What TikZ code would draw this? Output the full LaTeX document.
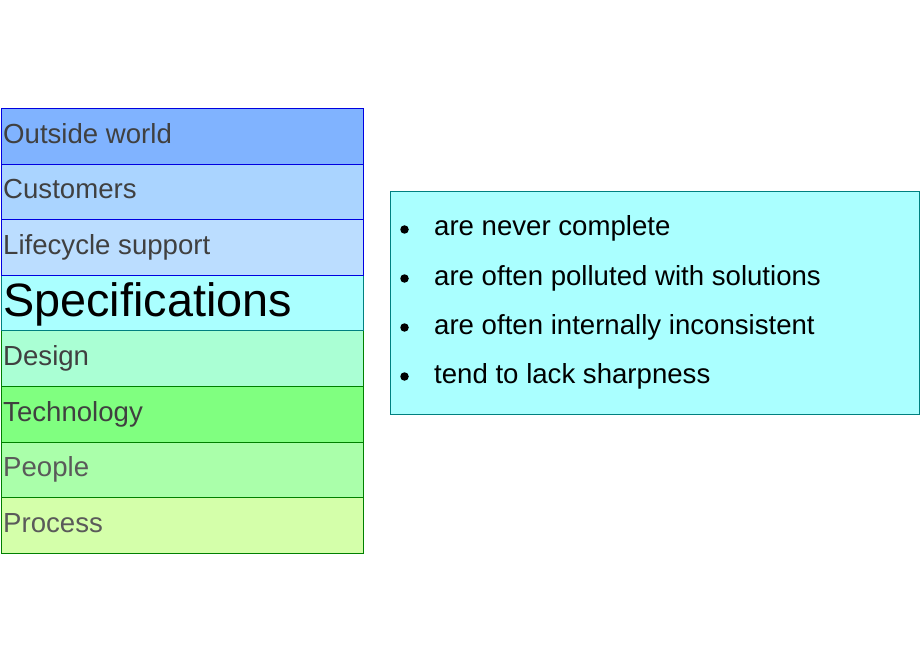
\documentclass[tikz,border=0pt]{standalone}
\usepackage{fontspec}
\setmainfont{Liberation Sans}
\definecolor{cOut}{HTML}{80B3FF}
\definecolor{cCust}{HTML}{AAD4FF}
\definecolor{cLife}{HTML}{BBDDFF}
\definecolor{cSpec}{HTML}{AAFFFF}
\definecolor{cDes}{HTML}{AAFFD4}
\definecolor{cTech}{HTML}{80FF80}
\definecolor{cPeop}{HTML}{AAFFAA}
\definecolor{cProc}{HTML}{D4FFAA}
\definecolor{bBlue}{HTML}{0000E0}
\definecolor{bTeal}{HTML}{008080}
\definecolor{bGreen}{HTML}{008000}
\definecolor{tDark}{HTML}{404040}
\definecolor{tGray}{HTML}{5A5A5A}
\tikzset{
  rowbox/.style={draw, line width=1pt, rectangle, minimum width=362pt, minimum height=55.6pt,
    anchor=north west, inner sep=0pt},
  rowtxt/.style={anchor=base west, inner sep=0pt, font=\fontsize{27.6}{30}\selectfont},
  bultxt/.style={anchor=base west, inner sep=0pt, font=\fontsize{27.6}{30}\selectfont},
  bul/.style={circle, fill=black, inner sep=0pt, minimum size=8.5pt},
}
\begin{document}
\begin{tikzpicture}[x=1pt,y=-1pt]
\useasboundingbox (0,0) rectangle (920,660);
% rows drawn bottom to top so shared edges take the upper row's colour
\node[rowbox, fill=cProc, draw=bGreen] (proc) at (1,497.2) {};
\node[rowbox, fill=cPeop, draw=bGreen] (peop) at (1,441.6) {};
\node[rowbox, fill=cTech, draw=bGreen] (tech) at (1,386) {};
\node[rowbox, fill=cDes, draw=bGreen] (des) at (1,330.4) {};
\node[rowbox, fill=cSpec, draw=bTeal] (spec) at (1,274.8) {};
\node[rowbox, fill=cLife, draw=bBlue] (life) at (1,219.2) {};
\node[rowbox, fill=cCust, draw=bBlue] (cust) at (1,163.6) {};
\node[rowbox, fill=cOut, draw=bBlue] (out) at (1,108) {};
% labels
\node[rowtxt, text=tDark] (tout) at (3,143.3) {Outside world};
\node[rowtxt, text=tDark] (tcust) at (3,198.9) {Customers};
\node[rowtxt, text=tDark] (tlife) at (3,254.5) {Lifecycle support};
\node[anchor=base west, inner sep=0pt, font=\fontsize{46.8}{50}\selectfont, text=black] (tspec) at (3,316.7) {Specifications};
\node[rowtxt, text=tDark] (tdes) at (3,365.7) {Design};
\node[rowtxt, text=tDark] (ttech) at (3,421.3) {Technology};
\node[rowtxt, text=tGray] (tpeop) at (3,476.9) {People};
\node[rowtxt, text=tGray] (tproc) at (3,532.5) {Process};
% right box
\node[draw=bTeal, fill=cSpec, line width=1pt, rectangle, anchor=north west, minimum width=529pt, minimum height=223pt, inner sep=0pt] (box) at (390,191) {};
\node[bul] (b1) at (404.5,229.5) {};
\node[bul] (b2) at (404.5,278.5) {};
\node[bul] (b3) at (404.5,327.5) {};
\node[bul] (b4) at (404.5,376.5) {};
\node[bultxt] (l1) at (434,236) {are never complete};
\node[bultxt] (l2) at (434,285) {are often polluted with solutions};
\node[bultxt] (l3) at (434,334) {are often internally inconsistent};
\node[bultxt] (l4) at (434,383) {tend to lack sharpness};
\end{tikzpicture}
\end{document}
